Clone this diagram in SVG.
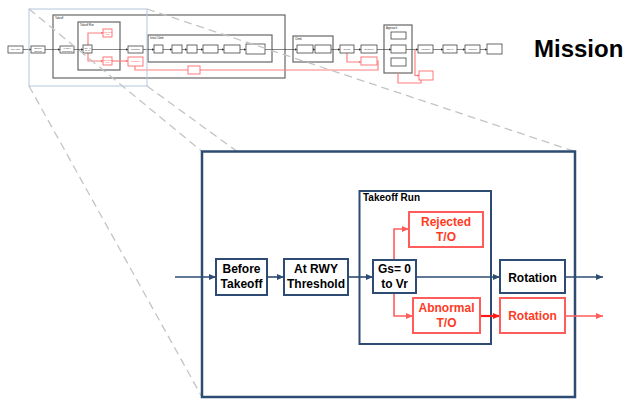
<svg xmlns="http://www.w3.org/2000/svg" width="624" height="401" viewBox="0 0 624 401">
<defs>
<marker id="an" markerUnits="userSpaceOnUse" markerWidth="8" markerHeight="8" refX="7" refY="4" orient="auto"><path d="M0,1 L7,4 L0,7 z" fill="#2d4b73"/></marker>
<marker id="ar" markerUnits="userSpaceOnUse" markerWidth="8" markerHeight="8" refX="7" refY="4" orient="auto"><path d="M0,1 L7,4 L0,7 z" fill="#ff5c5c"/></marker>
<marker id="ar2" markerUnits="userSpaceOnUse" markerWidth="8" markerHeight="8" refX="7" refY="4" orient="auto"><path d="M0,1 L7,4 L0,7 z" fill="#ff1a1a"/></marker>
<marker id="ao" markerUnits="userSpaceOnUse" markerWidth="3" markerHeight="3" refX="2.5" refY="1.5" orient="auto"><path d="M0,0 L2.5,1.5 L0,3 z" fill="#333"/></marker>
<marker id="aor" markerUnits="userSpaceOnUse" markerWidth="3" markerHeight="3" refX="2.5" refY="1.5" orient="auto"><path d="M0,0 L2.5,1.5 L0,3 z" fill="#ff7070"/></marker>
</defs>
<style>
.ob{fill:#fff;stroke:#444;stroke-width:0.8}
.obr{fill:#fff;stroke:#ff6a6a;stroke-width:0.9}
.og{fill:none;stroke:#666;stroke-width:1.2}
.ot{font-family:"Liberation Sans",Arial,sans-serif;font-size:2.4px;fill:#333;text-anchor:middle}
.otr{font-family:"Liberation Sans",Arial,sans-serif;font-size:2.4px;fill:#ff5050;text-anchor:middle}
.ogt{font-family:"Liberation Sans",Arial,sans-serif;font-size:2.6px;fill:#222}
.ol{fill:none;stroke:#333;stroke-width:0.6}
.olr{fill:none;stroke:#ff8080;stroke-width:1.2}
.dash{fill:none;stroke:#c4c4c4;stroke-width:1.3;stroke-dasharray:8 5}
.nb{fill:#fff;stroke:#2d4b73;stroke-width:2}
.rb{fill:#fff;stroke:#ff5c5c;stroke-width:2}
.nt{font-family:"Liberation Sans",Arial,sans-serif;font-size:12px;font-weight:bold;fill:#000;text-anchor:middle}
.rt{font-family:"Liberation Sans",Arial,sans-serif;font-size:12px;font-weight:bold;fill:#ff3b1f;text-anchor:middle}
.nl{fill:none;stroke:#2d4b73;stroke-width:1.6}
.rl{fill:none;stroke:#ff5c5c;stroke-width:1.6}
</style>

<g id="overview">
<rect class="og" x="53" y="15" width="232" height="63"/>
<text class="ogt" x="55" y="18.5">Takeoff</text>
<rect class="og" x="78" y="22" width="42" height="48"/>
<text class="ogt" x="80" y="25.5">Takeoff Run</text>
<rect class="og" x="148" y="35" width="124" height="27"/>
<text class="ogt" x="150" y="38.5">Initial Climb</text>
<rect class="og" x="293" y="36" width="40" height="26"/>
<text class="ogt" x="295" y="39.5">Climb</text>
<rect class="og" x="384" y="25" width="28" height="48"/>
<text class="ogt" x="386" y="28.5">Approach</text>

<path class="ol" marker-end="url(#ao)" d="M23,49.5 H31"/>
<path class="ol" marker-end="url(#ao)" d="M45,49.5 H60"/>
<path class="ol" marker-end="url(#ao)" d="M74,49.5 H83"/>
<path class="ol" marker-end="url(#ao)" d="M92,49.5 H128"/>
<path class="ol" marker-end="url(#ao)" d="M143,49.5 H154"/>
<path class="ol" marker-end="url(#ao)" d="M163,49.5 H172"/>
<path class="ol" marker-end="url(#ao)" d="M182,49.5 H187"/>
<path class="ol" marker-end="url(#ao)" d="M197,49.5 H203"/>
<path class="ol" marker-end="url(#ao)" d="M218,49.5 H224"/>
<path class="ol" marker-end="url(#ao)" d="M240,49.5 H246"/>
<path class="ol" marker-end="url(#ao)" d="M265,49.5 H297"/>
<path class="ol" marker-end="url(#ao)" d="M313,49.5 H315"/>
<path class="ol" marker-end="url(#ao)" d="M331,49.5 H340"/>
<path class="ol" marker-end="url(#ao)" d="M354,49.5 H361"/>
<path class="ol" marker-end="url(#ao)" d="M377,49.5 H391"/>
<path class="ol" marker-end="url(#ao)" d="M406,49.5 H418"/>
<path class="ol" marker-end="url(#ao)" d="M433,49.5 H443"/>
<path class="ol" marker-end="url(#ao)" d="M457,49.5 H465"/>
<path class="ol" marker-end="url(#ao)" d="M480,49.5 H487"/>

<path class="olr" marker-end="url(#aor)" d="M88,45 V33 H103"/>
<path class="olr" marker-end="url(#aor)" d="M88,53 V61 H103"/>
<path class="olr" marker-end="url(#aor)" d="M112,61 H128"/>
<path class="olr" d="M135,66 V70 H378 V61 H377"/>
<path class="olr" marker-end="url(#aor)" d="M347,53 V62 H361"/>
<path class="olr" marker-end="url(#aor)" d="M415,49.5 V75.5 H419"/>
<path class="olr" d="M421,80 V83 H398 V73"/>

<rect class="ob" x="8" y="46" width="15" height="7"/><text class="ot" x="15.5" y="50.3">Taxi Out</text>
<rect class="ob" x="31" y="46" width="14" height="7"/><text class="ot" x="38" y="49">Before</text><text class="ot" x="38" y="51.8">Takeoff</text>
<rect class="ob" x="60" y="46" width="14" height="7"/><text class="ot" x="67" y="49">At RWY</text><text class="ot" x="67" y="51.8">Threshold</text>
<rect class="ob" x="83" y="45" width="9" height="8"/><text class="ot" x="87.5" y="48.5">Gs= 0</text><text class="ot" x="87.5" y="51.3">to Vr</text>
<rect class="obr" x="103" y="29" width="9" height="8"/><text class="otr" x="107.5" y="32.5">Rejected</text><text class="otr" x="107.5" y="35.3">T/O</text>
<rect class="obr" x="103" y="57" width="9" height="8"/><text class="otr" x="107.5" y="60.5">Abnormal</text><text class="otr" x="107.5" y="63.3">T/O</text>
<rect class="ob" x="128" y="46" width="15" height="7"/><text class="ot" x="135.5" y="50.3">Rotation</text>
<rect class="obr" x="128" y="57" width="15" height="9"/><text class="otr" x="135.5" y="62.3">Rotation</text>
<rect class="ob" x="154" y="45" width="9" height="8"/>
<rect class="ob" x="172" y="45" width="10" height="8"/>
<rect class="ob" x="187" y="45" width="10" height="8"/>
<rect class="ob" x="203" y="45" width="15" height="8"/>
<rect class="ob" x="224" y="45" width="16" height="8"/>
<rect class="ob" x="246" y="44" width="19" height="10"/>
<rect class="obr" x="188" y="66" width="12" height="8"/>
<rect class="ob" x="297" y="45" width="16" height="8"/>
<rect class="ob" x="315" y="45" width="16" height="8"/>
<rect class="ob" x="340" y="45" width="14" height="8"/><text class="ot" x="347" y="50.3">Cruise</text>
<rect class="ob" x="361" y="45" width="16" height="8"/><text class="ot" x="369" y="50.3">Descent</text>
<rect class="obr" x="361" y="57" width="16" height="8"/>
<rect class="ob" x="391" y="32" width="15" height="7"/>
<rect class="ob" x="391" y="45" width="15" height="8"/>
<rect class="ob" x="391" y="58" width="15" height="8"/>
<rect class="obr" x="419" y="71" width="14" height="9"/>
<rect class="ob" x="418" y="45" width="15" height="8"/><text class="ot" x="425.5" y="50.3">Landing</text>
<rect class="ob" x="443" y="45" width="14" height="8"/><text class="ot" x="450" y="50.3">Taxi In</text>
<rect class="ob" x="465" y="45" width="15" height="8"/><text class="ot" x="472.5" y="50.3">Parking</text>
<rect class="ob" x="487" y="44" width="15" height="10"/>
</g>

<g id="mission"><text x="534" y="57" font-family="Liberation Sans, Arial, sans-serif" font-size="24" font-weight="bold" fill="#000">Mission</text></g>

<g id="zoom-guides">
<rect x="29" y="9" width="118" height="77" fill="none" stroke="#b4c6e0" stroke-width="1"/>
<path class="dash" d="M29,9 L202,151.5"/>
<path class="dash" d="M147,9 L575,151.5"/>
<path class="dash" d="M147,86 L575,397"/>
<path class="dash" d="M29,86 L202,397"/>
</g>

<g id="detail-frame"><rect x="202" y="151.5" width="373" height="245.5" fill="#fff" stroke="#2d4b73" stroke-width="2.5"/></g>

<g id="takeoff-run">
<rect x="359.5" y="191" width="131.5" height="153" fill="none" stroke="#2d4b73" stroke-width="2"/>
<text x="363" y="200.5" font-family="Liberation Sans, Arial, sans-serif" font-size="10" font-weight="bold" fill="#000">Takeoff Run</text>
</g>

<g id="connectors">
<path class="nl" marker-end="url(#an)" d="M175,277 H216"/>
<path class="nl" marker-end="url(#an)" d="M267,277 H284"/>
<path class="nl" marker-end="url(#an)" d="M348,277 H373"/>
<path class="nl" marker-end="url(#an)" d="M416,277 H500"/>
<path class="nl" marker-end="url(#an)" d="M565,277 H603"/>
<path class="rl" marker-end="url(#ar)" d="M394,260 V229 H409"/>
<path class="rl" marker-end="url(#ar)" d="M394,293 V316 H413"/>
<path fill="none" stroke="#ff1a1a" stroke-width="2.2" marker-end="url(#ar2)" d="M480,316 H500"/>
<path class="rl" marker-end="url(#ar)" d="M565,316 H603"/>
</g>

<g id="before-takeoff"><rect class="nb" x="216" y="259" width="51" height="36"/><text class="nt" x="241.5" y="273">Before</text><text class="nt" x="241.5" y="288">Takeoff</text></g>
<g id="at-rwy-threshold"><rect class="nb" x="284" y="259" width="64" height="36"/><text class="nt" x="316" y="273">At RWY</text><text class="nt" x="316" y="288">Threshold</text></g>
<g id="gs-0-to-vr"><rect class="nb" x="373" y="260" width="43" height="33"/><text class="nt" x="394.5" y="273">Gs= 0</text><text class="nt" x="394.5" y="288">to Vr</text></g>
<g id="rejected-to"><rect class="rb" x="409" y="212" width="74" height="35"/><text class="rt" x="446" y="226">Rejected</text><text class="rt" x="446" y="240.5">T/O</text></g>
<g id="abnormal-to"><rect class="rb" x="413" y="298" width="67" height="35"/><text class="rt" x="446.5" y="311.5">Abnormal</text><text class="rt" x="446.5" y="326.5">T/O</text></g>
<g id="rotation"><rect class="nb" x="500" y="260" width="65" height="33"/><text class="nt" x="532.5" y="281.5">Rotation</text></g>
<g id="rotation-abnormal"><rect class="rb" x="500" y="298" width="65" height="35"/><text class="rt" x="532.5" y="320">Rotation</text></g>
</svg>
